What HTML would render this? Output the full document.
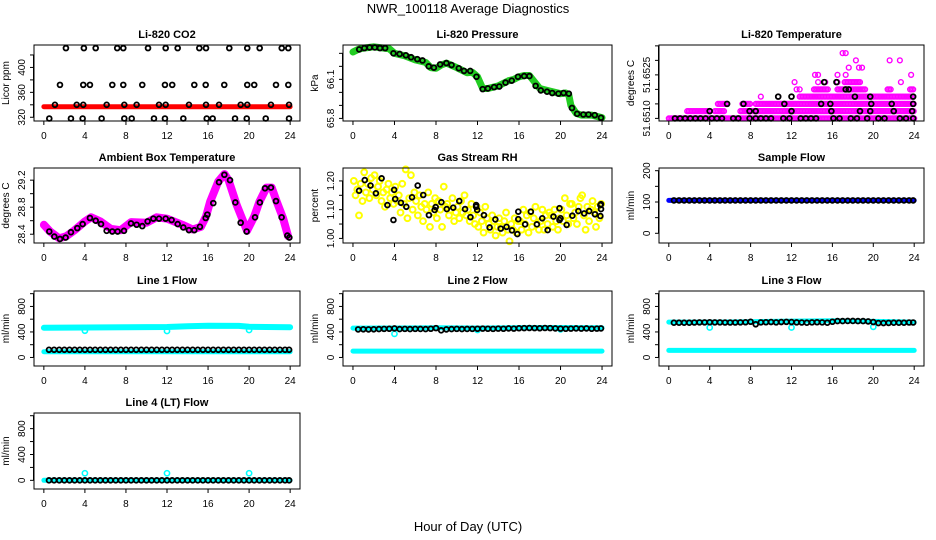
<!DOCTYPE html>
<html><head><meta charset="utf-8"><style>
html,body{margin:0;padding:0;background:#fff;}
svg{display:block;font-family:"Liberation Sans",sans-serif;}
</style></head><body>
<svg id="fig" width="936" height="540" viewBox="0 0 936 540" xmlns="http://www.w3.org/2000/svg">
<rect width="936" height="540" fill="#fff"/>
<text x="468" y="13" text-anchor="middle" font-size="13">NWR_100118  Average Diagnostics</text>
<text x="468" y="531" text-anchor="middle" font-size="13">Hour of Day (UTC)</text>
</svg>
<script>
// ---------- data ----------
const xTicks = [0,4,8,12,16,20,24];
// CO2
const co2RedH = [0,4,8,12,16,20,24];
const co2RedV = [337,337,337,337,337,337,337];
const co2BH = [2.15,3.9,5.05,7.15,7.74,10.15,11.87,13.04,15.15,15.8,18.07,19.82,21.03,23.18,23.82,
 1.57,3.84,4.49,6.67,7.74,9.59,11.8,12.51,14.66,15.77,17.58,19.82,20.5,22.62,23.82,
 1.08,3.2,3.84,6.12,7.84,9.04,11.22,11.87,14.14,15.8,17.07,19.18,19.82,22.13,23.89,
 0.53,2.64,3.78,5.63,7.84,8.56,10.73,11.8,13.59,15.87,16.45,18.63,19.77,21.62,23.89];
const co2BV = [431,431,431,431,431,431,431,431,431,431,431,431,431,431,431,
 372,372,372,372,372,372,372,372,372,372,372,372,372,372,372,
 340,340,340,340,340,340,340,340,340,340,340,340,340,340,340,
 318,318,318,318,318,318,318,318,318,318,318,318,318,318,318];
// Pressure
const pGH = [0,0.5,1,1.5,2,2.5,3,3.5,4,5,6,7,7.5,8,8.5,9,10,11,11.5,12,12.5,13,14,15,15.5,16,16.5,17,17.5,18,19,20,20.5,20.8,21,21.5,22,23,24];
const pGV = [66.31,66.33,66.34,66.345,66.35,66.345,66.34,66.335,66.30,66.28,66.25,66.23,66.19,66.185,66.21,66.225,66.19,66.15,66.155,66.12,66.03,66.03,66.05,66.09,66.10,66.12,66.13,66.13,66.08,66.03,66.01,65.99,65.995,65.98,65.90,65.84,65.825,65.825,65.805];
const pBH = [0.6,1.1,1.6,2.1,2.6,3.1,3.9,4.5,5.1,5.6,6.2,6.7,7.3,7.8,8.4,9,9.5,10.2,10.7,11.3,11.9,12.5,13,13.6,14.1,14.7,15.3,15.9,16.5,17,17.6,18.1,18.7,19.2,19.8,20.3,20.8,21.1,21.6,22.2,22.7,23.3,23.9];
const pBV = [66.33,66.34,66.345,66.345,66.34,66.34,66.30,66.295,66.285,66.27,66.255,66.245,66.20,66.19,66.215,66.225,66.21,66.185,66.165,66.165,66.12,66.025,66.03,66.04,66.045,66.075,66.09,66.12,66.125,66.125,66.05,66.015,66.005,65.995,65.99,65.995,65.99,65.88,65.835,65.83,65.83,65.825,65.805];
// Li-820 temperature (levels of 0.00025 above 51.6510)
const tBase = 51.6510;
const tStep = 0.00025;
const tSegStart = [0,1.8,4.5,7.0,4.8,7.2,8.5,12.8,14.2,16.5,21.4,17.2,23.6];
const tSegEnd   = [24,4.0,5.5,24,5.8,8.0,24,24,15.6,19.3,21.7,18.8,23.9];
const tSegLevel = [0,1,1,1,2,2,2,3,4,4,4,5,4];
const tPtH = [9.0,10.7,12.5,12.8,12.3,14.6,15.3,16.5,22.7,14.3,14.6,16.5,17.3,23.7,17.6,18.6,18.9,18.3,21.6,22.6,17.0,17.3];
const tPtL = [3,3,4,4,5,5,5,5,5,6,6,6,6,6,7,7,7,8,8,8,9,9];
const tBH = [0.6,1.1,1.6,2.1,2.6,3.1,3.6,4.2,4.7,5.2,6.3,6.8,7.9,8.5,9.0,9.5,10.0,11.2,11.8,12.9,13.4,13.9,14.4,16.1,16.7,17.8,18.4,19.4,20.5,21.1,22.6,23.2,23.9,
 4.0,7.9,8.5,12.0,15.9,18.7,19.7,22.0,23.8, 5.7,7.3,11.3,14.9,15.8,19.8,21.8,23.9, 10.7,12.0,18.2,19.7,23.9, 17.3,17.6, 15.2,16.4];
const tBL = [0,0,0,0,0,0,0,0,0,0,0,0,0,0,0,0,0,0,0,0,0,0,0,0,0,0,0,0,0,0,0,0,0,
 1,1,1,1,1,1,1,1,1, 2,2,2,2,2,2,2,2, 3,3,3,3,3, 4,4, 5,5];
// Ambient box temperature
const btH = [0,0.6,1.5,2.2,3,4,4.6,5.5,6.5,7.5,8.5,10,11,12,13.5,14.5,15.3,15.8,16.2,17,17.6,18,18.8,19.8,20.5,21,21.7,22.2,22.7,23.3,23.8];
const btV = [28.54,28.44,28.34,28.37,28.46,28.59,28.65,28.59,28.48,28.46,28.58,28.57,28.65,28.63,28.54,28.47,28.51,28.66,28.88,29.18,29.29,29.2,28.83,28.45,28.66,28.88,29.09,29.09,28.88,28.64,28.37];
const btBH = [0.53,1.02,1.57,2.12,2.64,3.26,3.78,4.49,5.05,5.57,6.12,6.67,7.19,7.81,8.49,9.04,9.59,10.11,10.67,11.22,11.87,12.45,13.04,13.59,14.14,14.66,15.21,15.77,15.93,16.51,17.07,17.59,18.14,18.66,19.18,19.76,20.58,21.05,21.55,22.13,22.62,23.17,23.73,23.92];
const btBV = [28.44,28.365,28.33,28.35,28.43,28.49,28.55,28.64,28.60,28.55,28.45,28.44,28.44,28.45,28.56,28.54,28.52,28.59,28.63,28.63,28.63,28.61,28.55,28.50,28.46,28.46,28.51,28.64,28.69,28.86,29.17,29.28,29.20,28.87,28.57,28.44,28.65,28.87,29.08,29.09,28.89,28.65,28.38,28.35];
// Gas stream RH (yellow: 6 samples per hour bin)
const rhYellow = [
 [1.20,1.15,1.17,1.08,1.19,1.13],[1.23,1.16,1.19,1.14,1.21,1.17],[1.22,1.15,1.18,1.20,1.13,1.16],
 [1.11,1.17,1.19,1.14,1.16,1.12],[1.18,1.13,1.15,1.09,1.19,1.12],[1.24,1.07,1.14,1.22,1.10,1.16],
 [1.13,1.08,1.15,1.11,1.06,1.12],[1.10,1.16,1.04,1.12,1.09,1.14],[1.07,1.13,1.10,1.04,1.18,1.11],
 [1.12,1.08,1.10,1.14,1.06,1.09],[1.11,1.07,1.13,1.09,1.15,1.08],[1.10,1.06,1.12,1.08,1.05,1.11],
 [1.04,1.09,1.06,1.02,1.11,1.07],[1.05,1.03,1.08,1.06,1.01,1.04],[1.07,1.04,1.02,1.06,1.09,1.03],
 [0.99,1.05,1.03,1.07,1.02,1.06],[1.06,1.03,1.10,1.05,1.08,1.02],[1.09,1.04,1.07,1.11,1.05,1.03],
 [1.06,1.10,1.03,1.08,1.05,1.09],[1.08,1.04,1.10,1.06,1.03,1.07],[1.10,1.06,1.14,1.08,1.05,1.12],
 [1.12,1.07,1.09,1.05,1.11,1.14],[1.15,1.08,1.03,1.11,1.06,1.10],[1.13,1.09,1.04,1.11,1.07,1.12]];
const rhBH = [0.59,1.14,1.69,2.21,2.76,3.32,3.90,3.97,4.07,4.62,5.14,5.69,6.24,6.77,7.32,7.87,7.97,8.52,9.04,9.66,10.24,10.80,11.32,11.87,11.87,11.97,12.62,13.17,13.72,14.24,14.80,15.32,15.84,15.93,15.93,16.59,17.14,17.72,18.24,18.76,19.32,19.90,19.90,20.00,20.59,21.14,21.72,22.28,22.76,23.32,23.84,23.90,23.90,23.84];
const rhBV = [1.166,1.203,1.184,1.157,1.209,1.116,1.064,1.169,1.137,1.124,1.110,1.143,1.184,1.151,1.081,1.099,1.109,1.126,1.102,1.107,1.130,1.102,1.074,1.116,1.110,1.099,1.081,1.038,1.066,1.034,1.040,1.028,1.015,1.067,1.093,1.049,1.093,1.049,1.070,1.029,1.076,1.064,1.105,1.070,1.047,1.079,1.095,1.087,1.095,1.084,1.116,1.119,1.102,1.078];
// flows: shared black sample hours
const flowH = [0.5,1,1.5,2,2.5,3,3.5,4,4.5,5,5.5,6,6.5,7,7.5,8,8.5,9,9.5,10,10.5,11,11.5,12,12.5,13,13.5,14,14.5,15,15.5,16,16.5,17,17.5,18,18.5,19,19.5,20,20.5,21,21.5,22,22.5,23,23.5,23.9];
const sfBandH = [0,24]; const sfBandV = [105,105];
const sfBlackV = [105,105,105,105,105,105,105,105,105,105,105,105,105,105,105,105,105,105,105,105,105,105,105,105,105,105,105,105,105,105,105,105,105,105,105,105,105,105,105,105,105,105,105,105,105,105,105,105];
const l1HighH = [0,4,8,12,14,16,19,20,24]; const l1HighV = [465,470,475,478,488,498,495,480,475];
const l1LowH = [0,24]; const l1LowV = [90,90];
const l1DipH = [4,12,20]; const l1DipV = [420,415,430];
const l1BlackV = [120,120,120,120,120,120,120,120,120,120,120,120,120,120,120,120,120,120,120,120,120,120,120,120,120,120,120,120,120,120,120,120,120,120,120,120,120,120,120,120,120,120,120,120,120,120,120,120];
const l2HighH = [0,4,8,12,16,20,24]; const l2HighV = [460,462,465,462,468,470,465];
const l2LowH = [0,24]; const l2LowV = [100,100];
const l2DipH = [4,12,20]; const l2DipV = [370,430,440];
const l2BlackV = [440,442,440,442,445,448,450,455,445,448,445,448,447,445,450,460,425,440,445,448,445,447,448,450,452,450,448,452,450,455,452,458,460,462,460,458,462,460,455,452,450,452,455,452,455,450,452,455];
const l3HighH = [0,4,8,12,16,20,24]; const l3HighV = [555,555,560,570,575,565,555];
const l3LowH = [0,24]; const l3LowV = [110,110];
const l3DipH = [4,12,20]; const l3DipV = [470,470,480];
const l3BlackV = [545,545,545,545,548,550,550,552,550,550,548,548,548,550,552,560,520,550,552,555,550,555,558,555,550,548,545,550,552,550,545,560,570,570,572,572,570,570,565,555,540,540,542,545,545,545,548,548];
const l4BandH = [0,24]; const l4BandV = [0,0];
const l4DipH = [4,12,20]; const l4DipV = [110,110,110];
const l4BlackV = [0,0,0,0,0,0,0,0,0,0,0,0,0,0,0,0,0,0,0,0,0,0,0,0,0,0,0,0,0,0,0,0,0,0,0,0,0,0,0,0,0,0,0,0,0,0,0,0];

// ---------- drawing ----------
const NS = "http://www.w3.org/2000/svg";
const svg = document.getElementById('fig');
function el(tag, attrs, parent){ const e=document.createElementNS(NS,tag); for(const k in attrs) e.setAttribute(k,attrs[k]); (parent||svg).appendChild(e); return e; }

function makePanel(c){
  const g = el('g',{});
  
  
  const xs = h => c.L + (h + 0.96) / 25.92 * c.W;
  const ys = v => c.T + c.H - (v - c.ymin) / (c.ymax - c.ymin) * c.H;
  const t = el('text',{x:c.L+c.W/2,y:c.T-7,'text-anchor':'middle','font-size':11,'font-weight':'bold'},g);
  t.textContent = c.title;
  
  
  const marks = el('g',{},g);
  
  
  const box = el('rect',{x:c.L,y:c.T,width:c.W,height:c.H,fill:'none',stroke:'#000','stroke-width':1},g);
  
  
  const xa = el('g',{},g);
  
  
  xTicks.forEach(h=>{
    el('line',{x1:xs(h),x2:xs(h),y1:c.T+c.H,y2:c.T+c.H+4,stroke:'#000'},xa);
    const tx = el('text',{x:xs(h),y:c.T+c.H+18,'text-anchor':'middle','font-size':10},xa);
    tx.textContent = h;
    
    
  });
  const ya = el('g',{},g);
  
  
  el('line',{x1:c.L-0.5,x2:c.L-0.5,y1:ys(c.yticks[0]),y2:ys(c.yticks[c.yticks.length-1]),stroke:'#000'},ya);
  c.yticks.forEach(v=>{ el('line',{x1:c.L-4,x2:c.L,y1:ys(v),y2:ys(v),stroke:'#000'},ya); });
  c.ylabels.forEach((v,i)=>{
    const x = c.L-9, y = ys(v);
    const tx = el('text',{x:x,y:y,'text-anchor':'middle','font-size':10,transform:`rotate(-90 ${x} ${y})`},ya);
    tx.textContent = c.ylabelText ? c.ylabelText[i] : v;
    
    
  });
  const ylx = c.L-25, yly = c.T+c.H/2;
  const yl = el('text',{x:ylx,y:yly,'text-anchor':'middle','font-size':10,transform:`rotate(-90 ${ylx} ${yly})`},g);
  yl.textContent = c.ylab;
  
  
  return {xs, ys, marks};
}
function band(p, H, V, color, w){
  const pts = H.map((h,i)=>p.xs(h).toFixed(1)+','+p.ys(V[i]).toFixed(1)).join(' ');
  const pl = el('polyline',{points:pts,fill:'none',stroke:color,'stroke-width':w,'stroke-linejoin':'round','stroke-linecap':'round'},p.marks);
  
  
}
function circles(p, H, V, color, r, sw){
  H.forEach((h,i)=>{
    const c = el('circle',{cx:p.xs(h),cy:p.ys(V[i]),r:r||2.4,fill:'none',stroke:color,'stroke-width':sw||1.8},p.marks);
    
    
  });
}

// Row 1
let p = makePanel({name:'co2-panel',title:'Li-820 CO2',L:34,T:45,W:266,H:76,ymin:314,ymax:436,yticks:[320,340,360,380,400,420],ylabels:[320,360,400],ylab:'Licor ppm'});
band(p, co2RedH, co2RedV, '#ff0000', 5);
circles(p, co2BH, co2BV, '#000');

p = makePanel({name:'pressure-panel',title:'Li-820 Pressure',L:343,T:45,W:269,H:76,ymin:65.78,ymax:66.364,yticks:[65.8,65.9,66.0,66.1,66.2,66.3],ylabels:[65.8,66.1],ylabelText:['65.8','66.1'],ylab:'kPa'});
band(p, pGH, pGV, '#22cc22', 7);
circles(p, pBH, pBV, '#000');

p = makePanel({name:'li820-temperature-panel',title:'Li-820 Temperature',L:659,T:45,W:265,H:76,ymin:51.65091,ymax:51.65353,yticks:[51.6510,51.6515,51.6520,51.6525,51.6530,51.6535],ylabels:[51.6510,51.6525],ylabelText:['51.6510','51.6525'],ylab:'degrees C'});
tSegStart.forEach((s,i)=>{
  const H=[], V=[];
  for(let h=s; h<=tSegEnd[i]+1e-9; h+=0.15){ H.push(h); V.push(tBase + tSegLevel[i]*tStep); }
  circles(p, H, V, '#ff00ff', 2.4, 1.4);
});
circles(p, tPtH, tPtL.map(l=>tBase+l*tStep), '#ff00ff', 2.4, 1.4);
circles(p, tBH, tBL.map(l=>tBase+l*tStep), '#000');

// Row 2
p = makePanel({name:'ambient-box-temperature-panel',title:'Ambient Box Temperature',L:34,T:168,W:266,H:75,ymin:28.27,ymax:29.38,yticks:[28.4,28.6,28.8,29.0,29.2],ylabels:[28.4,28.8,29.2],ylabelText:['28.4','28.8','29.2'],ylab:'degrees C'});
band(p, btH, btV, '#ff00ff', 8);
circles(p, btBH, btBV, '#000');

p = makePanel({name:'gas-stream-rh-panel',title:'Gas Stream RH',L:343,T:168,W:269,H:75,ymin:0.984,ymax:1.245,yticks:[1.00,1.05,1.10,1.15,1.20],ylabels:[1.00,1.10,1.20],ylabelText:['1.00','1.10','1.20'],ylab:'percent'});
rhYellow.forEach((vals,b)=>{
  circles(p, vals.map((v,j)=>b+(j+0.5)/6), vals, '#ffff00', 2.9, 2.0);
});
circles(p, rhBH, rhBV, '#000');

p = makePanel({name:'sample-flow-panel',title:'Sample Flow',L:659,T:168,W:265,H:75,ymin:-31,ymax:208.6,yticks:[0,50,100,150,200],ylabels:[0,100,200],ylab:'ml/min'});
band(p, sfBandH, sfBandV, '#0000ff', 5);
circles(p, flowH, sfBlackV, '#000');

// Row 3
const flowCfg = {ymin:-134,ymax:1042,yticks:[0,200,400,600,800,1000],ylabels:[0,400,800],ylab:'ml/min'};
p = makePanel(Object.assign({name:'line1-flow-panel',title:'Line 1 Flow',L:34,T:291,W:266,H:75},flowCfg));
band(p, l1HighH, l1HighV, '#00ffff', 6);
band(p, l1LowH, l1LowV, '#00ffff', 5);
circles(p, l1DipH, l1DipV, '#00ffff', 2.6, 1.6);
circles(p, flowH, l1BlackV, '#000');

p = makePanel(Object.assign({name:'line2-flow-panel',title:'Line 2 Flow',L:343,T:291,W:269,H:75},flowCfg));
band(p, l2HighH, l2HighV, '#00ffff', 5);
band(p, l2LowH, l2LowV, '#00ffff', 5);
circles(p, l2DipH, l2DipV, '#00ffff', 2.6, 1.6);
circles(p, flowH, l2BlackV, '#000');

p = makePanel(Object.assign({name:'line3-flow-panel',title:'Line 3 Flow',L:659,T:291,W:265,H:75},flowCfg));
band(p, l3HighH, l3HighV, '#00ffff', 5);
band(p, l3LowH, l3LowV, '#00ffff', 5);
circles(p, l3DipH, l3DipV, '#00ffff', 2.6, 1.6);
circles(p, flowH, l3BlackV, '#000');

// Row 4
p = makePanel(Object.assign({name:'line4-flow-panel',title:'Line 4 (LT) Flow',L:34,T:413,W:266,H:76},flowCfg));
band(p, l4BandH, l4BandV, '#00ffff', 5);
circles(p, l4DipH, l4DipV, '#00ffff', 2.6, 1.6);
circles(p, flowH, l4BlackV, '#000');
</script>
</body></html>
